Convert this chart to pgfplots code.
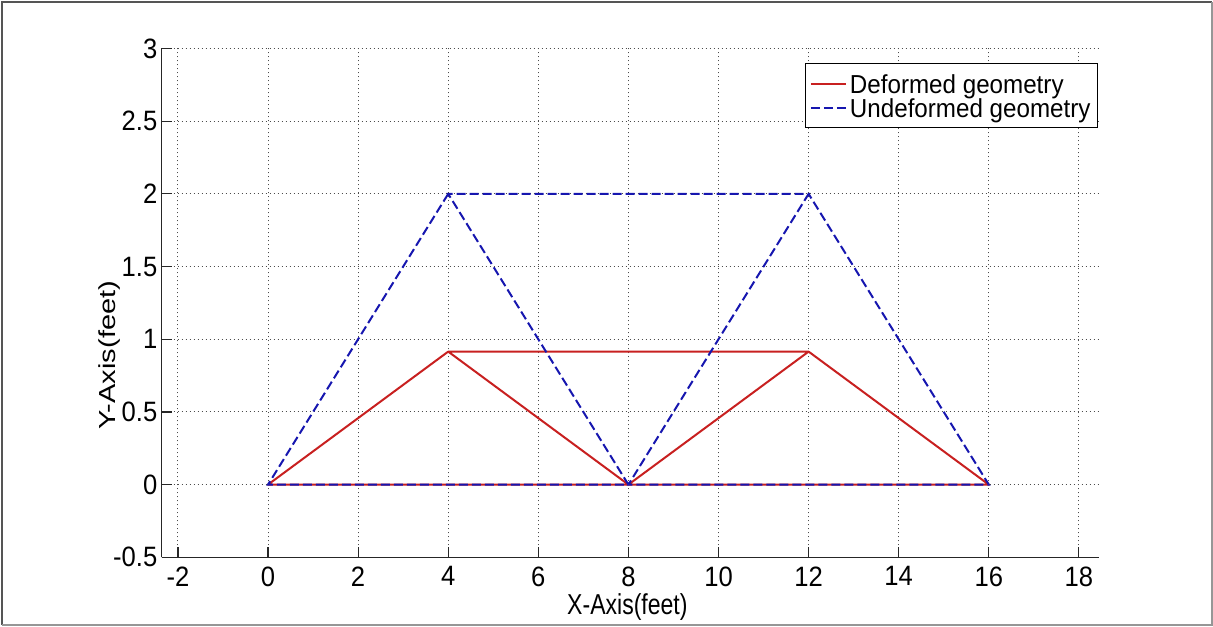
\documentclass[border=0pt]{standalone}
\usepackage{fontspec}
\setmainfont{Liberation Sans}
\newfontfamily\tickfont{Liberation Sans}[FakeStretch=0.914]
\newfontfamily\xlabfont{Liberation Sans}[FakeStretch=0.8]
\newfontfamily\legfont{Liberation Sans}[FakeStretch=0.93]
\usepackage{pgfplots}
\pgfplotsset{compat=1.18}

\definecolor{defred}{RGB}{200,32,32}
\definecolor{undefblue}{RGB}{22,22,175}
\definecolor{framedark}{RGB}{85,85,85}
\definecolor{framelight}{RGB}{150,150,150}

\begin{document}
\begin{tikzpicture}[x=1pt,y=1pt]
\useasboundingbox (-80.85,-34.35) rectangle (525.65,278.65);
\begin{axis}[
  at={(0,0)}, anchor=south west,
  scale only axis, width=468.5pt, height=254.4pt,
  xmin=-2.36, xmax=18.44, ymin=-0.5, ymax=3,
  axis x line*=bottom, axis y line*=left,
  axis line style={line width=0.6pt, color=black!85, -},
  xtick={-2,0,...,18}, ytick={-0.5,0,...,3},
  xticklabels={-2,0,2,4,6,8,10,12,14,16,18},
  yticklabels={-0.5,0,0.5,1,1.5,2,2.5,3},
  tick align=inside, major tick length=5pt,
  tick style={line width=0.6pt, color=black!85},
  ticklabel style={font=\tickfont\fontsize{14}{16}\selectfont},
  xticklabel style={anchor=north, inner sep=0pt, yshift=-4.5pt},
  yticklabel style={anchor=east, inner sep=0pt, xshift=-2pt},
  grid=major,
  major grid style={dash pattern=on 0.5pt off 1.5pt, line width=0.5pt, color=black!70},
  xlabel={X-Axis(feet)},
  xlabel style={at={(axis description cs:0.497,-0.097)}, anchor=center, inner sep=0pt,
    font=\xlabfont\fontsize{14.4}{16}\selectfont},
  ylabel={\scalebox{1.25}[1]{\fontsize{11.6}{13}\selectfont Y-Axis(feet)}},
  ylabel style={at={(axis description cs:-0.0555,0.397)}, anchor=center, inner sep=0pt},
  legend style={at={(0.9993,0.9715)}, anchor=north east, draw=black, line width=0.5pt,
    font=\legfont\fontsize{13}{15}\selectfont, inner xsep=2pt, inner ysep=4pt, row sep=0pt,
    nodes={inner xsep=1.5pt, inner ysep=0pt, text height=11pt, text depth=1pt}},
  legend cell align=left,
  legend image code/.code={\draw[#1] (0pt,0pt) -- (17.5pt,0pt);},
]
% deformed truss members, traced as one path
\addplot[defred, line width=1pt, line join=round] coordinates {
  (4,0.915) (0,0) (8,0) (4,0.915) (12,0.915) (8,0) (16,0) (12,0.915)
};
% undeformed truss members
\addplot[undefblue, line width=1pt, dash pattern=on 4.5pt off 2pt] coordinates {
  (4,2) (0,0) (8,0) (4,2) (12,2) (8,0) (16,0) (12,2)
};
\legend{Deformed geometry, Undeformed geometry}
\end{axis}
% figure frame
\draw[framedark, line width=1pt] (-79.6,-33.85) -- (-79.6,277.4) -- (524.9,277.4);
\draw[framelight, line width=1pt] (524.9,277.4) -- (524.9,-33.85) -- (-79.6,-33.85);
\end{tikzpicture}
\end{document}
